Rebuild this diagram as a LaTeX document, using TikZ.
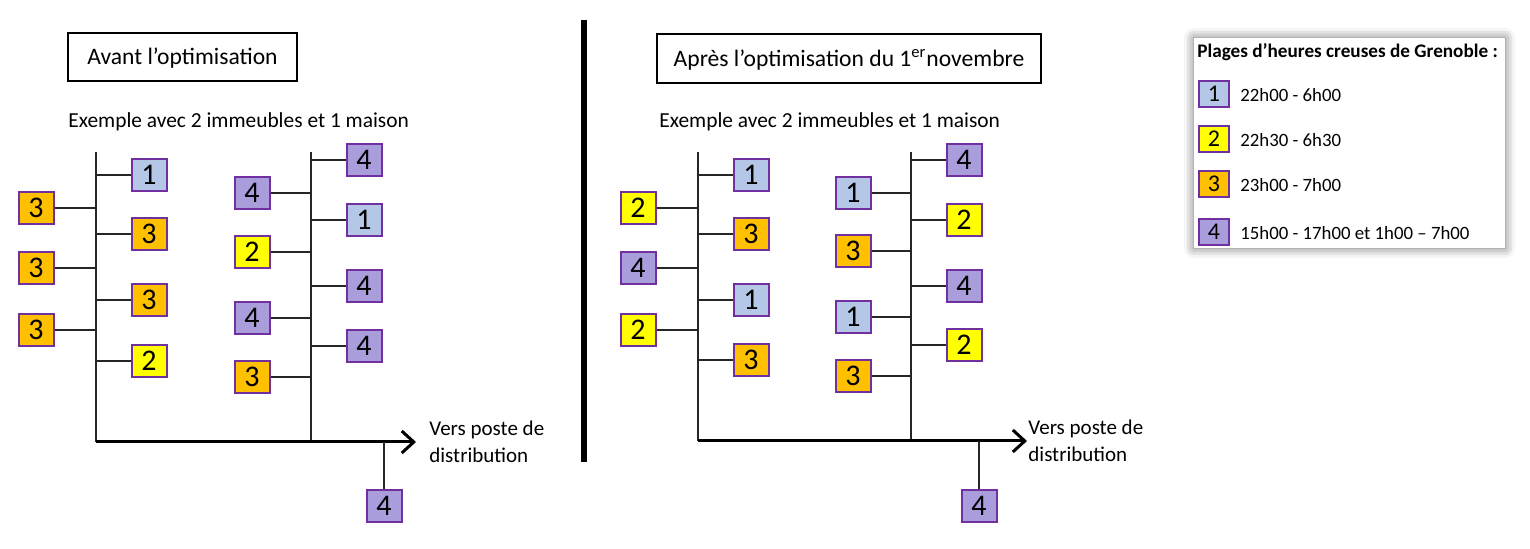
\documentclass[tikz,border=0pt]{standalone}
\usepackage{fontspec}
\setmainfont{Carlito}
\usetikzlibrary{arrows.meta,shadows.blur}
\definecolor{purp}{HTML}{7030A0}
\definecolor{cA}{HTML}{B4C7E7}
\definecolor{cB}{HTML}{FFFF00}
\definecolor{cC}{HTML}{FFC000}
\definecolor{cD}{HTML}{A99DDB}
\tikzset{
  bx/.style={draw=purp, line width=1pt, minimum width=17.5pt, minimum height=16pt, inner sep=0pt, font=\fontsize{15}{16}\selectfont},
  k1/.style={bx, fill=cA}, k2/.style={bx, fill=cB}, k3/.style={bx, fill=cC}, k4/.style={bx, fill=cD},
  lb/.style={bx, minimum width=15pt, minimum height=13pt, font=\fontsize{12}{13}\selectfont},
  wire/.style={line width=0.7pt, black!85},
  mainarrow/.style={line width=1.5pt, -{Straight Barb[length=6pt,width=11pt,line width=1.5pt]}},
  titlebox/.style={draw, line width=0.6pt, inner sep=0pt, font=\fontsize{11.8}{13}\selectfont},
  sub/.style={anchor=west, inner sep=0pt, font=\fontsize{10.7}{12}\selectfont},
  vers/.style={anchor=north west, inner sep=0pt, align=left, font=\fontsize{10.5}{13.5}\selectfont},
  legtxt/.style={anchor=west, inner sep=0pt, font=\fontsize{9.4}{10}\selectfont},
}
\begin{document}
\begin{tikzpicture}[x=0.5pt,y=-0.5pt]
\useasboundingbox (0,0) rectangle (1530,549);

% separator
\draw[line width=2.6pt] (584,20) -- (584,462);

% ---------------- Left diagram ----------------
\node[titlebox, minimum width=114.5pt, minimum height=24pt, text depth=0pt, text height=8pt] (TL) at (182.5,57) {Avant l’optimisation};
\node[sub] (SL) at (68,122) {Exemple avec 2 immeubles et 1 maison};

\coordinate (A1t) at (96,152); \coordinate (A1b) at (96,442);
\coordinate (A2t) at (311,152); \coordinate (A2b) at (311,442);
\coordinate (AE) at (416,442);
\draw[wire] (A1t) -- (A1b);
\draw[wire] (A2t) -- (A2b);
\draw[mainarrow] (A1b) -- (AE);

\node[k3] (La1) at (36,208) {3};
\node[k3] (La2) at (36,268) {3};
\node[k3] (La3) at (36,330) {3};
\node[k1] (Lb1) at (149,175) {1};
\node[k3] (Lb2) at (149,234) {3};
\node[k3] (Lb3) at (149,300) {3};
\node[k2] (Lb4) at (149,361) {2};
\node[k4] (Lc1) at (252,193) {4};
\node[k2] (Lc2) at (252,252) {2};
\node[k4] (Lc3) at (252,318) {4};
\node[k3] (Lc4) at (252,377) {3};
\node[k4] (Ld1) at (364,160) {4};
\node[k1] (Ld2) at (364,220) {1};
\node[k4] (Ld3) at (364,286) {4};
\node[k4] (Ld4) at (364,346) {4};
\foreach \n in {La1,La2,La3} \draw[wire] (\n.east) -- (\n.east -| A1t);
\foreach \n in {Lb1,Lb2,Lb3,Lb4} \draw[wire] (\n.west) -- (\n.west -| A1t);
\foreach \n in {Lc1,Lc2,Lc3,Lc4} \draw[wire] (\n.east) -- (\n.east -| A2t);
\foreach \n in {Ld1,Ld2,Ld3,Ld4} \draw[wire] (\n.west) -- (\n.west -| A2t);
\node[k4] (LH) at (384,506) {4};
\draw[wire] (LH.north) -- (LH.north |- A1b);
\node[vers] (LV) at (429,421) {Vers poste de\\distribution};

% ---------------- Right diagram ----------------
\node[titlebox, minimum width=192pt, minimum height=24.5pt, text depth=0pt, text height=8pt] (TR) at (849,58.5) {Après l’optimisation du 1\textsuperscript{er}novembre};
\node[sub] (SR) at (659,122) {Exemple avec 2 immeubles et 1 maison};

\coordinate (B1t) at (698,152); \coordinate (B1b) at (698,441);
\coordinate (B2t) at (911,152); \coordinate (B2b) at (911,441);
\coordinate (BE) at (1027,441);
\draw[wire] (B1t) -- (B1b);
\draw[wire] (B2t) -- (B2b);
\draw[mainarrow] (B1b) -- (BE);

\node[k2] (Ra1) at (638,208) {2};
\node[k4] (Ra2) at (638,268) {4};
\node[k2] (Ra3) at (638,330) {2};
\node[k1] (Rb1) at (751,175) {1};
\node[k3] (Rb2) at (751,234) {3};
\node[k1] (Rb3) at (751,300) {1};
\node[k3] (Rb4) at (751,360) {3};
\node[k1] (Rc1) at (853,193) {1};
\node[k3] (Rc2) at (853,251) {3};
\node[k1] (Rc3) at (853,317) {1};
\node[k3] (Rc4) at (853,376) {3};
\node[k4] (Rd1) at (964,160) {4};
\node[k2] (Rd2) at (964,220) {2};
\node[k4] (Rd3) at (964,286) {4};
\node[k2] (Rd4) at (964,345) {2};
\foreach \n in {Ra1,Ra2,Ra3} \draw[wire] (\n.east) -- (\n.east -| B1t);
\foreach \n in {Rb1,Rb2,Rb3,Rb4} \draw[wire] (\n.west) -- (\n.west -| B1t);
\foreach \n in {Rc1,Rc2,Rc3,Rc4} \draw[wire] (\n.east) -- (\n.east -| B2t);
\foreach \n in {Rd1,Rd2,Rd3,Rd4} \draw[wire] (\n.west) -- (\n.west -| B2t);
\node[k4] (RH) at (979,506) {4};
\draw[wire] (RH.north) -- (RH.north |- B1b);
\node[vers] (RV) at (1028,420) {Vers poste de\\distribution};

% ---------------- Legend ----------------
\node[fill=white, minimum width=155.5pt, minimum height=105pt, inner sep=0pt,
      blur shadow={shadow xshift=0pt, shadow yshift=0pt, shadow blur radius=5pt, shadow opacity=60}] (LEG) at (1349.5,143) {};
\node[anchor=west, inner sep=0pt, font=\bfseries\fontsize{9.6}{10}\selectfont] (LT) at (1197,52) {Plages d’heures creuses de Grenoble :};
\node[lb, fill=cA] (G1) at (1214,94) {1};
\node[lb, fill=cB] (G2) at (1214,139) {2};
\node[lb, fill=cC] (G3) at (1214,184) {3};
\node[lb, fill=cD] (G4) at (1214,232) {4};
\node[legtxt] (T1) at (1240,95) {22h00 - 6h00};
\node[legtxt] (T2) at (1240,140) {22h30 - 6h30};
\node[legtxt] (T3) at (1240,185) {23h00 - 7h00};
\node[legtxt] (T4) at (1240,233) {15h00 - 17h00 et 1h00 – 7h00};
\end{tikzpicture}
\end{document}
